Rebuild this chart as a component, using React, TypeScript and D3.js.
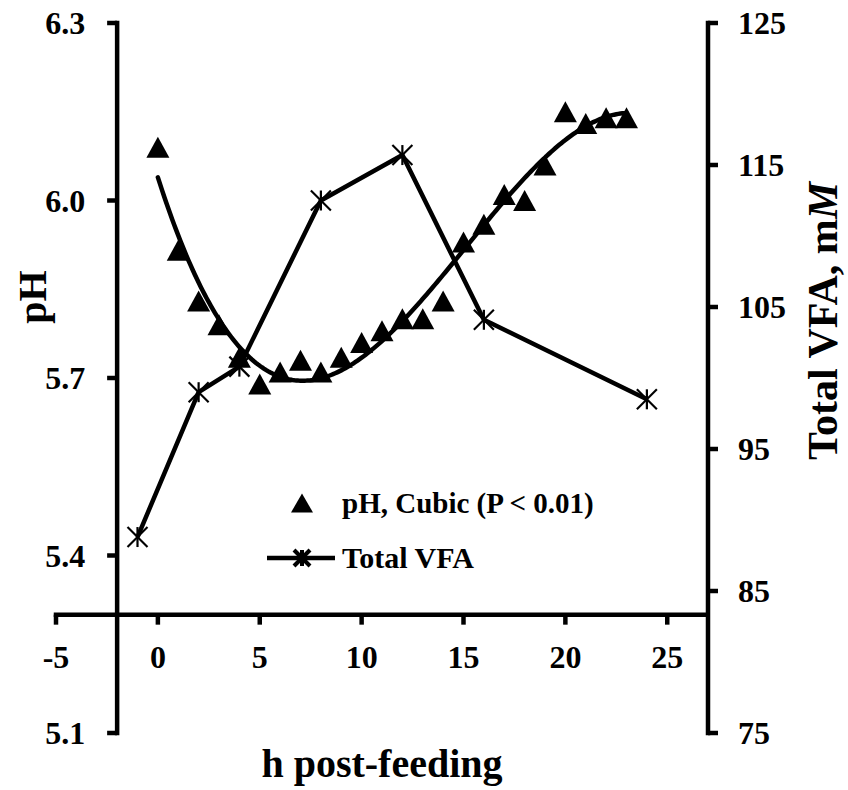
import React from "react";
import * as d3 from "d3";

// pH measured hourly after feeding
const phHours = [0, 1, 2, 3, 4, 5, 6, 7, 8, 9, 10, 11, 12, 13, 14, 15, 16, 17, 18, 19, 20, 21, 22, 23];
const phValues = [6.09, 5.916, 5.83, 5.79, 5.735, 5.69, 5.71, 5.73, 5.71, 5.735, 5.76, 5.78, 5.80, 5.80, 5.83, 5.93, 5.96, 6.01, 6.0, 6.06, 6.15, 6.13, 6.14, 6.14];

// total volatile fatty acids (mM)
const vfaHours = [-1, 2, 4, 8, 12, 16, 24];
const vfaValues = [88.8, 99.0, 100.8, 112.5, 115.7, 104.1, 98.5];

const xTicks = [-5, 0, 5, 10, 15, 20, 25];
const phTicks = [5.1, 5.4, 5.7, 6.0, 6.3];
const vfaTicks = [75, 85, 95, 105, 115, 125];

const FONT = "'Liberation Serif', 'Times New Roman', serif";

// least-squares cubic through the pH observations
function cubicFit(xs: number[], ys: number[]): number[] {
  const n = 4;
  const A: number[][] = Array.from({ length: n }, () => new Array(n + 1).fill(0));
  xs.forEach((x, i) => {
    const p = [1, x, x * x, x * x * x];
    for (let r = 0; r < n; r++) {
      for (let c = 0; c < n; c++) A[r][c] += p[r] * p[c];
      A[r][n] += p[r] * ys[i];
    }
  });
  for (let i = 0; i < n; i++) {
    let max = i;
    for (let r = i + 1; r < n; r++) if (Math.abs(A[r][i]) > Math.abs(A[max][i])) max = r;
    [A[i], A[max]] = [A[max], A[i]];
    for (let r = 0; r < n; r++) {
      if (r === i) continue;
      const f = A[r][i] / A[i][i];
      for (let c = i; c <= n; c++) A[r][c] -= f * A[i][c];
    }
  }
  return A.map((row, i) => row[n] / row[i]);
}

function triangle(cx: number, cy: number, w = 23, h = 21) {
  return `M${cx},${cy - h / 2}L${cx + w / 2},${cy + h / 2}L${cx - w / 2},${cy + h / 2}Z`;
}

function Star({ cx, cy, r = 9, sw = 2.5 }: { cx: number; cy: number; r?: number; sw?: number }) {
  return (
    <g stroke="#000" strokeWidth={sw} strokeLinecap="butt">
      <line x1={cx - r} y1={cy - r} x2={cx + r} y2={cy + r} />
      <line x1={cx - r} y1={cy + r} x2={cx + r} y2={cy - r} />
      <line x1={cx} y1={cy - r} x2={cx} y2={cy + r} />
    </g>
  );
}

export default function App() {
  const width = 848;
  const height = 790;

  const x = d3.scaleLinear().domain([-5, 27]).range([56, 708]);
  const yPh = d3.scaleLinear().domain([5.1, 6.3]).range([733, 23]);
  const yVfa = d3.scaleLinear().domain([75, 125]).range([733, 23]);

  const axisY = yPh(5.3);
  const leftX = x(-2);
  const rightX = x(27);

  const coef = cubicFit(phHours, phValues);
  const fitPts = d3.range(0, 23.001, 0.1).map((h) => [h, coef[0] + coef[1] * h + coef[2] * h * h + coef[3] * h * h * h]);
  const fitLine = d3.line<number[]>().x((d) => x(d[0])).y((d) => yPh(d[1]))(fitPts) || "";

  const vfaLine =
    d3
      .line<number>()
      .x((_, i) => x(vfaHours[i]))
      .y((d) => yVfa(d))(vfaValues) || "";

  const aw = 4.5;
  const tick = 10;

  return (
    <svg
      width={width}
      height={height}
      style={{ position: "absolute", left: 0, top: 0, background: "#fff" }}
      fontFamily={FONT}
      fontWeight="bold"
    >
      <rect width={width} height={height} fill="#fff" />

      {/* left pH axis */}
      <line x1={leftX} y1={yPh(6.3) - aw / 2} x2={leftX} y2={yPh(5.1) + aw / 2} stroke="#000" strokeWidth={aw} />
      {phTicks.map((t) => (
        <g key={t}>
          <line x1={leftX - tick} x2={leftX} y1={yPh(t)} y2={yPh(t)} stroke="#000" strokeWidth={aw} />
          <text x={leftX - 32} y={yPh(t)} dy="0.35em" textAnchor="end" fontSize={32}>
            {t.toFixed(1)}
          </text>
        </g>
      ))}
      <text transform={`translate(46,297) rotate(-90)`} textAnchor="middle" fontSize={40}>
        pH
      </text>

      {/* right VFA axis */}
      <line x1={rightX} y1={yVfa(125) - aw / 2} x2={rightX} y2={yVfa(75) + aw / 2} stroke="#000" strokeWidth={aw} />
      {vfaTicks.map((t) => (
        <g key={t}>
          <line x1={rightX} x2={rightX + tick} y1={yVfa(t)} y2={yVfa(t)} stroke="#000" strokeWidth={aw} />
          <text x={rightX + 30} y={yVfa(t)} dy="0.35em" textAnchor="start" fontSize={32}>
            {t}
          </text>
        </g>
      ))}
      <text transform={`translate(837,321) rotate(-90)`} textAnchor="middle" fontSize={42}>
        Total VFA, m<tspan fontStyle="italic">M</tspan>
      </text>

      {/* x axis */}
      <line x1={x(-5) - aw / 2} x2={rightX} y1={axisY} y2={axisY} stroke="#000" strokeWidth={aw} />
      {xTicks.map((t) => (
        <g key={t}>
          <line x1={x(t)} x2={x(t)} y1={axisY} y2={axisY + tick} stroke="#000" strokeWidth={aw} />
          <text x={x(t)} y={668} textAnchor="middle" fontSize={32}>
            {t}
          </text>
        </g>
      ))}
      <text x={382} y={777} textAnchor="middle" fontSize={40}>
        h post-feeding
      </text>

      {/* VFA series */}
      <path d={vfaLine} fill="none" stroke="#000" strokeWidth={4.5} strokeLinejoin="round" />
      {vfaValues.map((v, i) => (
        <Star key={i} cx={x(vfaHours[i])} cy={yVfa(v)} r={10} sw={2.2} />
      ))}

      {/* pH observations and cubic trend */}
      {phValues.map((v, i) => (
        <path key={i} d={triangle(x(phHours[i]), yPh(v))} fill="#000" />
      ))}
      <path d={fitLine} fill="none" stroke="#000" strokeWidth={4.5} strokeLinecap="round" />

      {/* legend */}
      <path d={triangle(302, 503, 22, 19)} fill="#000" />
      <text x={342} y={513} fontSize={29}>
        pH, Cubic (P &lt; 0.01)
      </text>
      <line x1={267} x2={335} y1={558} y2={558} stroke="#000" strokeWidth={4.5} />
      <Star cx={302} cy={558} r={8} sw={4} />
      <text x={342} y={568} fontSize={30}>
        Total VFA
      </text>
    </svg>
  );
}
